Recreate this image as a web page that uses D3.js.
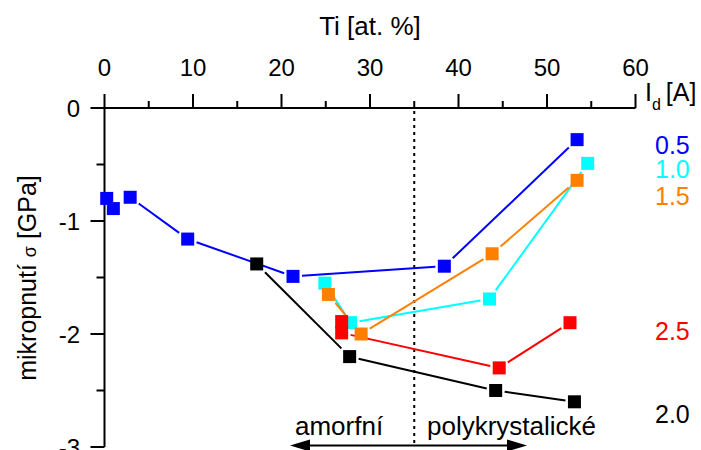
<!DOCTYPE html>
<html>
<head>
<meta charset="utf-8">
<script src="https://cdn.jsdelivr.net/npm/d3@7"></script>
<style>
  html, body { margin: 0; padding: 0; background: #fff; }
  svg text { font-family: "Liberation Sans", Arial, sans-serif; fill: #000; }
</style>
</head>
<body>
<svg id="chart" width="701" height="450"></svg>
<script>
// Ti content [at. %] and micro-stress sigma [GPa] for each discharge current I_d
const ti_05 = [0.25, 1.0, 2.9, 9.4, 21.3, 38.4, 53.4];
const s_05  = [-0.80, -0.89, -0.79, -1.16, -1.49, -1.40, -0.28];

const ti_10 = [24.9, 27.8, 43.5, 54.6];
const s_10  = [-1.55, -1.90, -1.69, -0.49];

const ti_25 = [26.8, 26.8, 44.6, 52.6];
const s_25  = [-1.89, -1.99, -2.30, -1.90];

const ti_15 = [25.3, 29.0, 43.8, 53.4];
const s_15  = [-1.65, -2.00, -1.29, -0.64];

const ti_20 = [17.2, 27.7, 44.2, 53.1];
const s_20  = [-1.38, -2.20, -2.50, -2.60];

const seriesLabels = ["0.5", "1.0", "1.5", "2.5", "2.0"];
const labelSigma   = [-0.33, -0.54, -0.78, -1.97, -2.71];
const xTicks = [0, 10, 20, 30, 40, 50, 60];
const yTicks = [0, -1, -2, -3];
const boundaryTi = 35;

const series = [
  { ti: ti_05, s: s_05, color: "#0000ff" },
  { ti: ti_10, s: s_10, color: "#00ffff" },
  { ti: ti_25, s: s_25, color: "#ff0000" },
  { ti: ti_15, s: s_15, color: "#ff8000" },
  { ti: ti_20, s: s_20, color: "#000000" }
];
const labelColors = ["#0000ff", "#00ffff", "#ff8000", "#ff0000", "#000000"];

const svg = d3.select("#chart");
const x = d3.scaleLinear().domain([0, 60]).range([104.5, 635.5]);
const y = d3.scaleLinear().domain([0, -3]).range([108, 447]);

// top axis
const xAxis = d3.axisTop(x).tickValues(d3.range(0, 61, 5)).tickSize(0).tickFormat("");
const gx = svg.append("g").attr("transform", `translate(0,${y(0)})`).call(xAxis);
gx.select(".domain").remove();
svg.append("line").attr("x1", x(0)).attr("x2", x(60)).attr("y1", y(0)).attr("y2", y(0))
  .attr("stroke", "#000").attr("stroke-width", 2);
d3.range(0, 61, 5).forEach(v => {
  const major = v % 10 === 0;
  svg.append("line").attr("x1", x(v)).attr("x2", x(v))
    .attr("y1", y(0)).attr("y2", y(0) - (major ? 14 : 7))
    .attr("stroke", "#000").attr("stroke-width", 2);
});
svg.selectAll(".xlab").data(xTicks).enter().append("text")
  .attr("x", d => x(d)).attr("y", 76).attr("text-anchor", "middle")
  .attr("font-size", 24).text(d => d);

// left axis
svg.append("line").attr("x1", x(0)).attr("x2", x(0)).attr("y1", y(0)).attr("y2", y(-3))
  .attr("stroke", "#000").attr("stroke-width", 2);
d3.range(0, 7).forEach(i => {
  const v = -i / 2;
  const major = i % 2 === 0;
  svg.append("line").attr("x1", x(0)).attr("x2", x(0) - (major ? 14 : 8))
    .attr("y1", y(v)).attr("y2", y(v))
    .attr("stroke", "#000").attr("stroke-width", 2);
});
svg.selectAll(".ylab").data(yTicks).enter().append("text")
  .attr("x", 80).attr("y", d => y(d)).attr("dy", "0.36em").attr("text-anchor", "end")
  .attr("font-size", 24).text(d => d === 0 ? "0" : "-" + Math.abs(d));

// axis titles
svg.append("text").attr("x", 370).attr("y", 35).attr("text-anchor", "middle")
  .attr("font-size", 26).text("Ti [at. %]");
const yt = svg.append("text").attr("transform", "translate(36,278) rotate(-90)")
  .attr("text-anchor", "middle").attr("font-size", 25);
yt.append("tspan").text("mikropnutí ");
yt.append("tspan").attr("font-size", 18).text("σ");
yt.append("tspan").text(" [GPa]");

const idl = svg.append("text").attr("x", 645).attr("y", 101).attr("font-size", 25);
idl.append("tspan").text("I");
idl.append("tspan").attr("font-size", 16).attr("dy", 9).text("d");
idl.append("tspan").attr("dy", -9).attr("dx", 5).text("[A]");

// amorphous / polycrystalline boundary
svg.append("line").attr("x1", x(boundaryTi)).attr("x2", x(boundaryTi))
  .attr("y1", y(0) + 3).attr("y2", 446)
  .attr("stroke", "#000").attr("stroke-width", 2).attr("stroke-dasharray", "3,4");

svg.append("text").attr("x", 295).attr("y", 435).attr("font-size", 26).text("amorfní");
svg.append("text").attr("x", 427).attr("y", 435).attr("font-size", 26).text("polykrystalické");

const ay = 445.5;
svg.append("line").attr("x1", 305).attr("x2", 512).attr("y1", ay).attr("y2", ay)
  .attr("stroke", "#000").attr("stroke-width", 2);
svg.append("path").attr("d", `M290,${ay} L310,${ay - 6} L310,${ay + 6} Z`).attr("fill", "#000");
svg.append("path").attr("d", `M527,${ay} L507,${ay - 6} L507,${ay + 6} Z`).attr("fill", "#000");

// connecting lines, kept clear of the square markers
const half = 6.5, gap = 2.5;
series.forEach(sr => {
  const pts = sr.ti.map((t, i) => [x(t), y(sr.s[i])]);
  for (let i = 0; i < pts.length - 1; i++) {
    const [x1, y1] = pts[i], [x2, y2] = pts[i + 1];
    const L = Math.hypot(x2 - x1, y2 - y1);
    const ux = (x2 - x1) / L, uy = (y2 - y1) / L;
    const g = half / Math.max(Math.abs(ux), Math.abs(uy)) + gap;
    if (L < 2 * g + 2) continue;
    svg.append("line")
      .attr("x1", x1 + ux * g).attr("y1", y1 + uy * g)
      .attr("x2", x2 - ux * g).attr("y2", y2 - uy * g)
      .attr("stroke", sr.color).attr("stroke-width", 2);
  }
});

// square markers
series.forEach(sr => {
  svg.append("g").selectAll("rect").data(sr.ti).enter().append("rect")
    .attr("x", (d) => x(d) - half)
    .attr("y", (d, i) => y(sr.s[i]) - half)
    .attr("width", half * 2).attr("height", half * 2)
    .attr("fill", sr.color);
});

// current labels on the right
svg.selectAll(".slab").data(seriesLabels).enter().append("text")
  .attr("x", 655).attr("y", (d, i) => y(labelSigma[i])).attr("dy", "0.36em")
  .attr("font-size", 25).style("fill", (d, i) => labelColors[i]).text(d => d);
</script>
</body>
</html>
